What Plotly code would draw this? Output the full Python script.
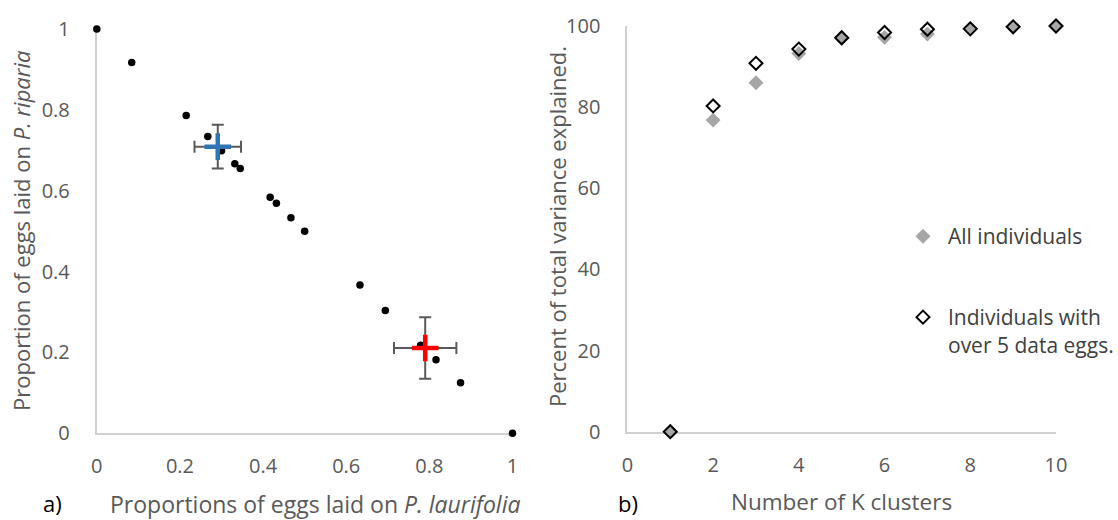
import plotly.graph_objects as go

# ---------------- data ----------------
# panel a) individual proportions
prop_laurifolia = [0.0, 0.084, 0.215, 0.267, 0.300, 0.332, 0.345, 0.417, 0.432,
                   0.467, 0.500, 0.633, 0.694, 0.779, 0.816, 0.875, 1.0]
prop_riparia = [1.0, 0.917, 0.786, 0.734, 0.699, 0.667, 0.655, 0.584, 0.569,
                0.533, 0.500, 0.367, 0.304, 0.218, 0.182, 0.125, 0.0]
# cluster means with error
cluster_x = [0.291, 0.790]
cluster_y = [0.709, 0.211]
cluster_ex = [0.056, 0.075]
cluster_ey = [0.054, 0.076]
cluster_colors = ["#2f75b5", "#ff0000"]

# panel b) variance explained
k_clusters = [1, 2, 3, 4, 5, 6, 7, 8, 9, 10]
all_individuals = [0, 76.8, 86.0, 93.2, 97.0, 97.2, 98.0, 99.3, 99.8, 100]
over5_individuals = [0, 80.3, 90.8, 94.3, 97.1, 98.4, 99.2, 99.3, 99.8, 100]

a_xticks = [0, 0.2, 0.4, 0.6, 0.8, 1]
a_xticktext = ["0", "0.2", "0.4", "0.6", "0.8", "1"]
a_yticks = [0, 0.2, 0.4, 0.6, 0.8, 1]
a_yticktext = ["0", "0.2", "0.4", "0.6", "0.8", "1"]
b_xticks = [0, 2, 4, 6, 8, 10]
b_xticktext = ["0", "2", "4", "6", "8", "10"]
b_yticks = [0, 20, 40, 60, 80, 100]
b_yticktext = ["0", "20", "40", "60", "80", "100"]

# ---------------- figure ----------------
W, H = 1118, 520
FONT = "Open Sans"
GREY_TXT = "#595959"
AXIS_LINE = "#d0d0d0"

fig = go.Figure()

fig.add_trace(go.Scatter(
    x=prop_laurifolia, y=prop_riparia, mode="markers",
    marker=dict(color="black", size=7.5, symbol="circle"),
    xaxis="x", yaxis="y", showlegend=False, cliponaxis=False))

for i in range(len(cluster_x)):
    fig.add_trace(go.Scatter(
        x=[cluster_x[i]], y=[cluster_y[i]], mode="markers",
        marker=dict(symbol="cross-thin", size=19,
                    line=dict(color=cluster_colors[i], width=4.5)),
        error_x=dict(type="data", array=[cluster_ex[i]], color="#595959",
                     thickness=2, width=6),
        error_y=dict(type="data", array=[cluster_ey[i]], color="#595959",
                     thickness=2, width=6),
        xaxis="x", yaxis="y", showlegend=False, cliponaxis=False))

fig.add_trace(go.Scatter(
    x=k_clusters, y=all_individuals, mode="markers", name="All individuals",
    marker=dict(symbol="diamond", size=11.5, color="#a6a6a6",
                line=dict(width=0)),
    xaxis="x2", yaxis="y2", legend="legend", cliponaxis=False))

fig.add_trace(go.Scatter(
    x=k_clusters, y=over5_individuals, mode="markers",
    name="Individuals with<br>over 5 data eggs.",
    marker=dict(symbol="diamond", size=10, color="rgba(0,0,0,0)",
                line=dict(width=2, color="black")),
    xaxis="x2", yaxis="y2", legend="legend2", cliponaxis=False))


def px_x(p):
    return p / W


def px_y(p):
    return 1 - p / H


axis_common = dict(showgrid=False, zeroline=False, showline=True,
                   linecolor=AXIS_LINE, linewidth=2, ticks="",
                   layer="below traces",
                   tickfont=dict(family=FONT, size=20, color=GREY_TXT),
                   tickmode="array", fixedrange=True, automargin=False)

fig.update_layout(
    width=W, height=H,
    margin=dict(l=0, r=0, t=0, b=0, autoexpand=False),
    paper_bgcolor="white", plot_bgcolor="white",
    font=dict(family=FONT, color=GREY_TXT),
    xaxis=dict(axis_common, domain=[px_x(96.8), px_x(512.5)], range=[0, 1],
               tickvals=a_xticks, ticktext=a_xticktext, anchor="y",
               ticklabelstandoff=14),
    yaxis=dict(axis_common, domain=[px_y(433.3), px_y(29)], range=[0, 1],
               tickvals=a_yticks, ticktext=a_yticktext, anchor="x",
               ticklabelstandoff=21),
    xaxis2=dict(axis_common, domain=[px_x(627.4), px_x(1056)], range=[0, 10],
                tickvals=b_xticks, ticktext=b_xticktext, anchor="y2",
                ticklabelstandoff=14),
    yaxis2=dict(axis_common, domain=[px_y(431.7), px_y(26)], range=[0, 100],
                tickvals=b_yticks, ticktext=b_yticktext, anchor="x2",
                ticklabelstandoff=21),
    legend=dict(x=px_x(898), y=px_y(216), xanchor="left", yanchor="top",
                font=dict(family=FONT, size=21, color="#404040"),
                bgcolor="rgba(0,0,0,0)", itemwidth=40, valign="top"),
    legend2=dict(x=px_x(898), y=px_y(297), xanchor="left", yanchor="top",
                 font=dict(family=FONT, size=21, color="#404040"),
                 bgcolor="rgba(0,0,0,0)", itemwidth=40, valign="top"),
)

ann = [
    dict(text="Proportion of eggs laid on <i>P. riparia</i>", x=px_x(21), y=px_y(231),
         textangle=-90, font=dict(size=22, color=GREY_TXT)),
    dict(text="Percent of total variance explained.", x=px_x(557), y=px_y(227),
         textangle=-90, font=dict(size=22, color=GREY_TXT)),
    dict(text="Proportions of eggs laid on <i>P. laurifolia</i>", x=px_x(315), y=px_y(504),
         font=dict(size=23, color=GREY_TXT)),
    dict(text="Number of K clusters", x=px_x(841), y=px_y(501),
         font=dict(size=22.5, color=GREY_TXT)),
    dict(text="a)", x=px_x(52), y=px_y(503), font=dict(size=22, color="black")),
    dict(text="b)", x=px_x(628), y=px_y(503), font=dict(size=22, color="black")),
]
for a in ann:
    a.update(xref="paper", yref="paper", showarrow=False,
             xanchor="center", yanchor="middle")
    a["font"]["family"] = FONT
fig.update_layout(annotations=ann)

fig.write_html("out.html")
